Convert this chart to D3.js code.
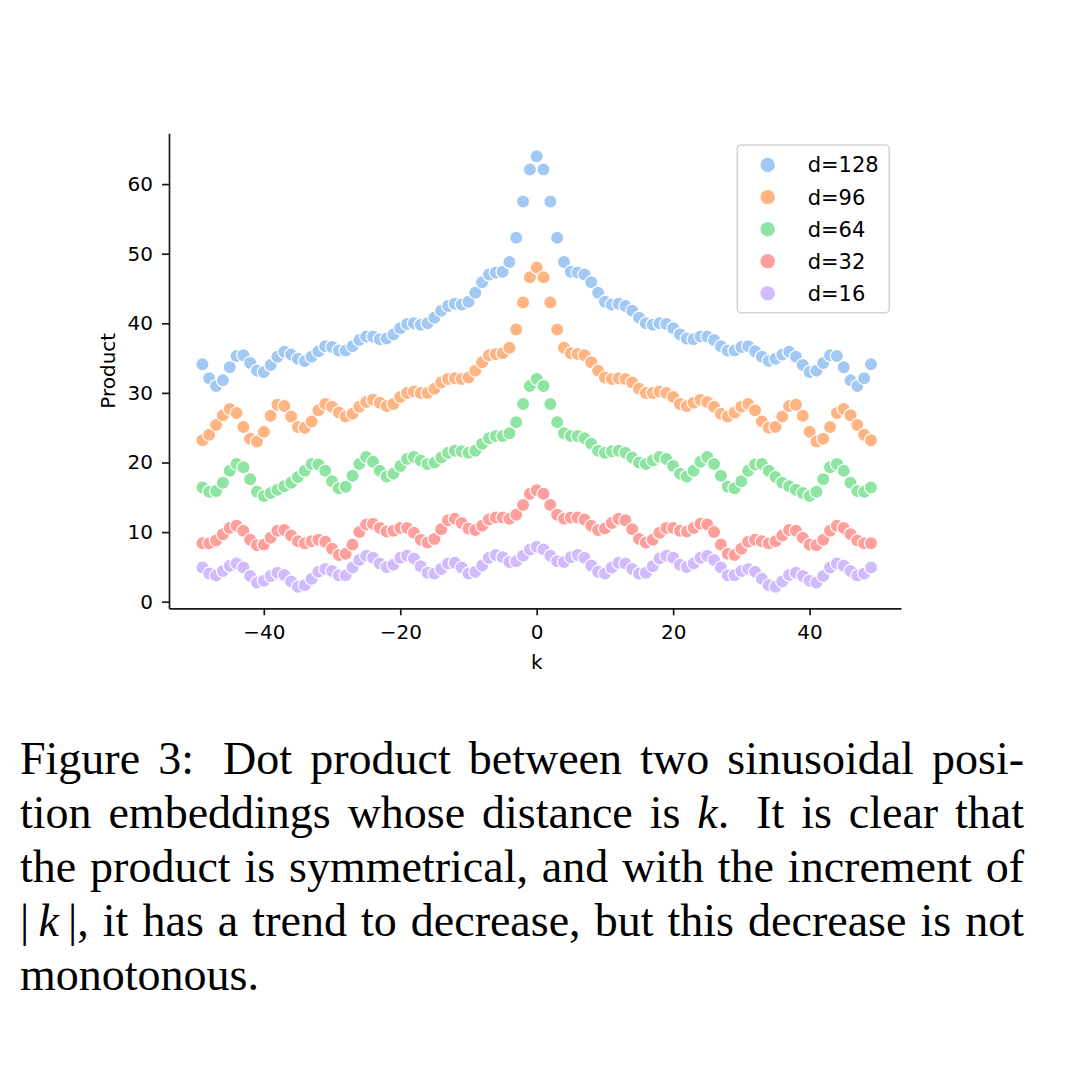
<!DOCTYPE html>
<html>
<head>
<meta charset="utf-8">
<script src="https://cdn.jsdelivr.net/npm/d3@7"></script>
<style>
  html, body { margin: 0; padding: 0; background: #ffffff; }
  svg { display: block; }
</style>
</head>
<body>
<svg id="chart" width="1070" height="1070"></svg>
<script>
// ---------------- data ----------------
const kValues = [-49,-48,-47,-46,-45,-44,-43,-42,-41,-40,-39,-38,-37,-36,-35,-34,-33,-32,-31,-30,
  -29,-28,-27,-26,-25,-24,-23,-22,-21,-20,-19,-18,-17,-16,-15,-14,-13,-12,-11,-10,
  -9,-8,-7,-6,-5,-4,-3,-2,-1,0,1,2,3,4,5,6,7,8,9,10,11,12,13,14,15,16,17,18,19,20,
  21,22,23,24,25,26,27,28,29,30,31,32,33,34,35,36,37,38,39,40,41,42,43,44,45,46,47,48,49];

const seriesNames = ["d=128", "d=96", "d=64", "d=32", "d=16"];
const seriesColors = ["#a1c9f4", "#ffb482", "#8de5a1", "#ff9f9b", "#d0bbff"];

const d128 = [34.1,32.1,31.0,31.8,33.7,35.3,35.4,34.3,33.2,33.0,34.0,35.2,35.9,35.5,34.9,34.6,35.2,36.0,36.7,36.6,
  36.1,36.1,36.7,37.6,38.1,38.1,37.7,37.8,38.4,39.3,39.9,40.0,39.8,40.0,40.8,41.8,42.5,42.8,42.7,43.1,
  44.4,45.9,47.0,47.3,47.4,48.8,52.3,57.5,62.1,
  64.0,
  62.1,57.5,52.3,48.8,47.4,47.3,47.0,45.9,44.4,43.1,42.7,42.8,42.5,41.8,40.8,40.0,39.8,40.0,39.9,39.3,
  38.4,37.8,37.7,38.1,38.1,37.6,36.7,36.1,36.1,36.6,36.7,36.0,35.2,34.6,34.9,35.5,35.9,35.2,34.0,33.0,
  33.2,34.3,35.4,35.3,33.7,31.8,31.0,32.1,34.1];

const d96 = [23.2,24.0,25.4,26.8,27.7,27.1,25.1,23.4,23.0,24.4,26.7,28.3,28.1,26.6,25.1,25.0,25.9,27.5,28.4,28.0,
  27.2,26.6,27.0,28.0,28.7,29.0,28.6,28.1,28.4,29.4,30.0,30.2,30.0,30.0,30.6,31.5,32.0,32.1,32.0,32.2,
  33.2,34.4,35.4,35.6,35.7,36.5,39.1,43.0,46.6,
  48.0,
  46.6,43.0,39.1,36.5,35.7,35.6,35.4,34.4,33.2,32.2,32.0,32.1,32.0,31.5,30.6,30.0,30.0,30.2,30.0,29.4,
  28.4,28.1,28.6,29.0,28.7,28.0,27.0,26.6,27.2,28.0,28.4,27.5,25.9,25.0,25.1,26.6,28.1,28.3,26.7,24.4,
  23.0,23.4,25.1,27.1,27.7,26.8,25.4,24.0,23.2];

const d64 = [16.4,15.8,15.9,17.1,18.8,19.8,19.3,17.6,15.8,15.2,15.6,16.1,16.6,17.1,17.9,18.8,19.8,19.7,18.8,17.3,
  16.3,16.5,18.1,19.8,20.8,20.1,18.8,18.0,18.4,19.5,20.5,20.8,20.3,19.8,20.0,20.7,21.4,21.7,21.6,21.4,
  21.7,22.7,23.5,23.8,23.8,24.2,25.8,28.4,31.0,
  32.0,
  31.0,28.4,25.8,24.2,23.8,23.8,23.5,22.7,21.7,21.4,21.6,21.7,21.4,20.7,20.0,19.8,20.3,20.8,20.5,19.5,
  18.4,18.0,18.8,20.1,20.8,19.8,18.1,16.5,16.3,17.3,18.8,19.7,19.8,18.8,17.9,17.1,16.6,16.1,15.6,15.2,
  15.8,17.6,19.3,19.8,18.8,17.1,15.9,15.8,16.4];

const d32 = [8.4,8.4,8.8,9.7,10.6,10.9,10.2,8.9,8.1,8.2,9.2,10.2,10.3,9.5,8.7,8.4,8.7,8.9,8.6,7.6,
  6.7,6.9,8.2,10.0,11.1,11.2,10.6,10.1,10.2,10.6,10.6,9.9,8.9,8.5,9.0,10.4,11.7,11.9,11.3,10.5,
  10.3,10.9,11.8,12.1,12.1,11.9,12.5,13.9,15.5,
  16.0,
  15.5,13.9,12.5,11.9,12.1,12.1,11.8,10.9,10.3,10.5,11.3,11.9,11.7,10.4,9.0,8.5,8.9,9.9,10.6,10.6,
  10.2,10.1,10.6,11.2,11.1,10.0,8.2,6.9,6.7,7.6,8.6,8.9,8.7,8.4,8.7,9.5,10.3,10.2,9.2,8.2,
  8.1,8.9,10.2,10.9,10.6,9.7,8.8,8.4,8.4];

const d16 = [4.9,4.05,3.75,4.4,5.15,5.5,4.9,3.7,2.75,3.0,3.7,4.15,3.85,2.9,2.15,2.35,3.3,4.3,4.7,4.4,
  3.8,3.8,4.9,6.0,6.6,6.3,5.5,5.0,5.3,6.3,6.6,6.2,5.1,4.15,4.05,4.7,5.5,5.6,4.9,4.05,
  4.3,5.2,6.3,6.7,6.4,5.7,5.8,6.6,7.5,
  7.9,
  7.5,6.6,5.8,5.7,6.4,6.7,6.3,5.2,4.3,4.05,4.9,5.6,5.5,4.7,4.05,4.15,5.1,6.2,6.6,6.3,
  5.3,5.0,5.5,6.3,6.6,6.0,4.9,3.8,3.8,4.4,4.7,4.3,3.3,2.35,2.15,2.9,3.85,4.15,3.7,3.0,
  2.75,3.7,4.9,5.5,5.15,4.4,3.75,4.05,4.9];

const xTicks = [-40, -20, 0, 20, 40];
const yTicks = [0, 10, 20, 30, 40, 50, 60];
const xLabel = "k";
const yLabel = "Product";

const captionLines = [
  "Figure 3:  Dot product between two sinusoidal posi-",
  "tion embeddings whose distance is *k*.  It is clear that",
  "the product is symmetrical, and with the increment of",
  "|\u2009*k*\u2009|, it has a trend to decrease, but this decrease is not",
  "monotonous."
];

// ---------------- drawing ----------------
const seriesData = [d128, d96, d64, d32, d16];
const svg = d3.select("#chart");
const FONT = "'DejaVu Sans', sans-serif";

const x = d3.scaleLinear().domain([-53.9, 53.4]).range([169, 901]);
const y = d3.scaleLinear().domain([-0.95, 67.3]).range([608.3, 133.3]);

// points
seriesData.forEach((vals, si) => {
  svg.append("g")
    .selectAll("circle")
    .data(kValues.map((k, i) => ({k, v: vals[i]})))
    .join("circle")
    .attr("cx", d => x(d.k))
    .attr("cy", d => y(d.v))
    .attr("r", 6.6)
    .attr("fill", seriesColors[si])
    .attr("stroke", "#ffffff")
    .attr("stroke-width", 1.2);
});

// axes
const axisColor = "#1a1a1a";
const yAxis = svg.append("g")
  .attr("transform", "translate(169,0)")
  .call(d3.axisLeft(y).tickValues(yTicks).tickSize(7).tickSizeOuter(0).tickPadding(9).tickFormat(d3.format("d")));
const xAxis = svg.append("g")
  .attr("transform", "translate(0,608.3)")
  .call(d3.axisBottom(x).tickValues(xTicks).tickSize(7).tickSizeOuter(0).tickPadding(10)
    .tickFormat(d => d < 0 ? "\u2212" + Math.abs(d) : String(d)));
[yAxis, xAxis].forEach(a => {
  a.selectAll("path.domain").attr("stroke", axisColor).attr("stroke-width", 1.7);
  a.selectAll(".tick line").attr("stroke", axisColor).attr("stroke-width", 1.7);
  a.selectAll(".tick text").attr("fill", "#000").style("font-family", FONT).style("font-size", "20px");
});

// axis labels
svg.append("text")
  .attr("x", x(0)).attr("y", 669)
  .attr("text-anchor", "middle")
  .style("font-family", FONT).style("font-size", "20px")
  .text(xLabel);
svg.append("text")
  .attr("transform", "translate(115,370.8) rotate(-90)")
  .attr("text-anchor", "middle")
  .style("font-family", FONT).style("font-size", "20px")
  .text(yLabel);

// legend
const legend = svg.append("g");
legend.append("rect")
  .attr("x", 737.3).attr("y", 145).attr("width", 152).attr("height", 167.7)
  .attr("rx", 4).attr("ry", 4)
  .attr("fill", "#ffffff").attr("fill-opacity", 0.8)
  .attr("stroke", "#d4d4d4").attr("stroke-width", 1.6);
seriesNames.forEach((name, i) => {
  const cy = 165 + i * 32.1;
  legend.append("circle")
    .attr("cx", 767.7).attr("cy", cy).attr("r", 7.2)
    .attr("fill", seriesColors[i]);
  legend.append("text")
    .attr("x", 807.7).attr("y", cy + 7.4)
    .style("font-family", FONT).style("font-size", "21px")
    .text(name);
});

// caption (justified)
const CAP_FONT = "'Liberation Serif', 'Times New Roman', serif";
const capSize = 46;
const left = 20, right = 1024;
captionLines.forEach((line, li) => {
  const baseY = 774 + li * 54;
  const tokens = line.split(/( +)/).filter(t => t.length);
  const words = [], gaps = [];
  tokens.forEach(t => {
    if (/^ +$/.test(t)) gaps.push(t.length > 1 ? 1.6 : 1);
    else words.push(t);
  });
  const nodes = words.map(w => {
    const t = svg.append("text")
      .attr("y", baseY)
      .style("font-family", CAP_FONT).style("font-size", capSize + "px").attr("fill", "#000");
    w.split("*").forEach((seg, si) => {
      if (!seg.length) return;
      t.append("tspan").style("font-style", si % 2 === 1 ? "italic" : "normal").text(seg);
    });
    return t;
  });
  const widths = nodes.map(n => n.node().getComputedTextLength());
  const last = li === captionLines.length - 1;
  const total = widths.reduce((a, b) => a + b, 0);
  const wsum = gaps.reduce((a, b) => a + b, 0);
  const unit = last ? capSize * 0.25 : (right - left - total) / wsum;
  let cx = left;
  nodes.forEach((n, i) => {
    n.attr("x", cx);
    cx += widths[i] + (i < gaps.length ? gaps[i] * unit : 0);
  });
});
</script>
</body>
</html>
